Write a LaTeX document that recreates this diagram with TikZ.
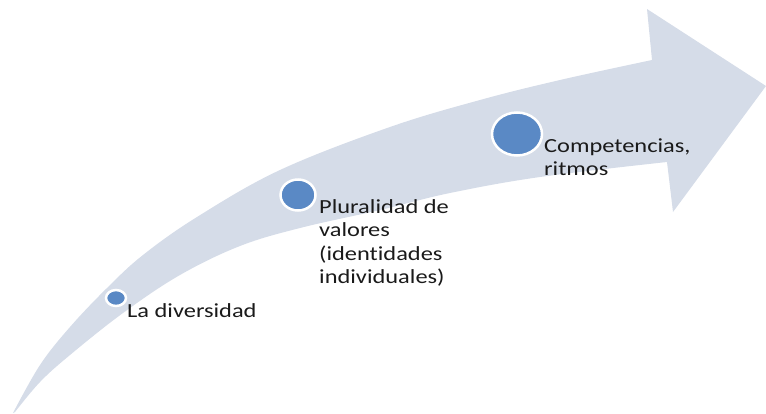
\documentclass[tikz,border=0pt]{standalone}
\usepackage{fontspec}
\usetikzlibrary{shapes.geometric}
\newfontfamily\calfont[FakeStretch=1.22, Ligatures={NoCommon}]{Carlito}
\definecolor{bandcol}{HTML}{D5DCE8}
\definecolor{dotcol}{HTML}{5A89C5}
\definecolor{txtcol}{HTML}{1A1A1A}
\begin{document}
\begin{tikzpicture}[x=1pt,y=-1pt,
  dot/.style={ellipse, fill=dotcol, draw=white, line width=2.5pt, inner sep=0pt},
  lbl/.style={font=\calfont\fontsize{20}{23.5}\selectfont, text=txtcol, inner sep=0pt, align=left}]
\useasboundingbox (0,0) rectangle (766,413);
\fill[bandcol]
  plot[smooth, tension=0.6] coordinates {(13,413) (40,365) (70,327) (107,288) (143,255) (197,217) (280,170) (390,127) (480,100) (560,80) (652,60)}
  -- (647,9) -- (766,86) -- (673,212) -- (667,162)
  -- plot[smooth, tension=0.6] coordinates {(667,162) (540,177) (450,193) (380,210) (300,228) (240,246) (180,275) (123,313) (70,355) (40,382) (15,412)}
  -- cycle;
\node[dot, minimum width=20pt, minimum height=16pt] (d1) at (116,298) {};
\node[dot, minimum width=35pt, minimum height=31pt] (d2) at (298,195) {};
\node[dot, minimum width=50pt, minimum height=43pt] (d3) at (517,134) {};
\node[lbl, anchor=base west] (t1) at (127,317) {La diversidad};
\node[lbl, anchor=base west] (t2) at (319,283.5) {Pluralidad de\\valores\\(identidades\\individuales)};
\node[lbl, anchor=base west] (t3) at (544,175.5) {Competencias,\\ritmos};
\end{tikzpicture}
\end{document}
